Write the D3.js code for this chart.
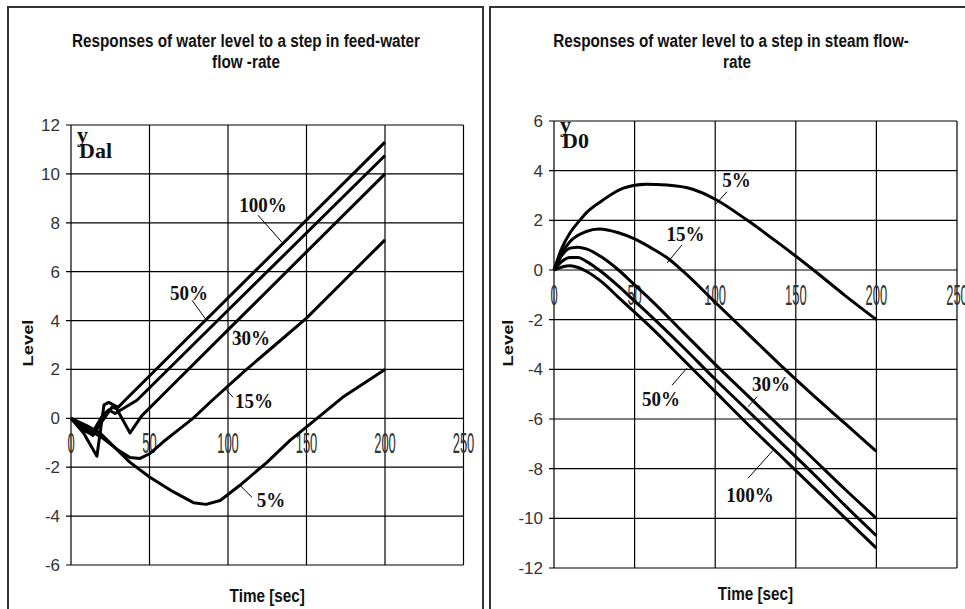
<!DOCTYPE html>
<html>
<head>
<meta charset="utf-8">
<script src="https://cdn.jsdelivr.net/npm/d3@7"></script>
<style>
  body { margin: 0; background: #fff; }
  svg { display: block; }
  .ttl { font-family: "Liberation Sans", Arial, sans-serif; font-weight: bold; font-size: 15.3px; fill: #111; }
  .ytick { font-family: "Liberation Sans", Arial, sans-serif; font-size: 17px; fill: #333; }
  .xtick { font-family: "Liberation Sans", Arial, sans-serif; font-size: 13px; fill: #333; }
  .serif { font-family: "Liberation Serif", "Times New Roman", serif; font-weight: bold; fill: #111; }
</style>
</head>
<body>
<div id="chart"></div>
<script>
var xTicks = [0, 50, 100, 150, 200, 250];
var feedTicksY = [-6, -4, -2, 0, 2, 4, 6, 8, 10, 12];
var steamTicksY = [-12, -10, -8, -6, -4, -2, 0, 2, 4, 6];
var seriesNames = ["5%", "15%", "30%", "50%", "100%"];

// feed-water step responses [time, level]
var feed5 = [[0,0],[10,-0.3],[18.5,-0.6],[28,-1.2],[37.6,-1.8],[50,-2.4],[65,-3.0],[78,-3.45],[86,-3.52],[95,-3.36],[107.6,-2.74],[124.8,-1.8],[139.5,-0.9],[156.7,0],[173,0.86],[200,2.0]];
var feed15 = [[0,0],[10,-0.4],[20,-0.8],[30,-1.3],[37.6,-1.6],[44,-1.64],[50,-1.45],[58.6,-0.97],[69.4,-0.42],[77.7,0],[90,0.74],[110,1.9],[130,3.0],[150,4.1],[175,5.7],[200,7.3]];
var feed30 = [[0,0],[8,-0.4],[14,-0.7],[20,-0.1],[26,0.45],[29,0.4],[37.6,-0.6],[45,0.1],[55,0.74],[100,3.62],[200,10.0]];
var feed50 = [[0,0],[7,-0.45],[13,-0.65],[20,0.1],[24,0.35],[28,0.2],[42,0.74],[100,4.42],[200,10.75]];
var feed100 = [[0,0],[8,-0.6],[16.5,-1.55],[21,0.55],[24,0.65],[30,0.45],[34.4,0.74],[200,11.3]];

// steam flow step responses [time, level]
var steam5 = [[0,0],[5,0.9],[10,1.5],[16,2.0],[20,2.3],[30,2.8],[43,3.3],[57,3.45],[70,3.42],[86,3.25],[100,2.85],[120,2.0],[140,1.05],[160,0.05],[180,-1.0],[200,-2.0]];
var steam15 = [[0,0],[5,0.7],[10,1.15],[20,1.55],[28,1.65],[40,1.5],[50,1.25],[60,0.9],[70,0.5],[80,-0.05],[100,-1.3],[120,-2.55],[140,-3.8],[160,-5.0],[180,-6.15],[200,-7.3]];
var steam30 = [[0,0],[5,0.6],[10,0.88],[15,0.92],[20,0.85],[30,0.5],[40,0],[50,-0.6],[60,-1.2],[80,-2.5],[100,-3.8],[120,-5.05],[140,-6.3],[160,-7.55],[180,-8.8],[200,-10.0]];
var steam50 = [[0,0],[5,0.35],[10,0.5],[15,0.5],[20,0.35],[30,-0.1],[40,-0.65],[50,-1.25],[60,-1.85],[80,-3.1],[100,-4.4],[120,-5.65],[140,-6.9],[160,-8.15],[180,-9.45],[200,-10.7]];
var steam100 = [[0,0],[5,0.12],[10,0.17],[15,0.1],[20,-0.05],[30,-0.5],[40,-1.1],[50,-1.7],[60,-2.3],[80,-3.6],[100,-4.9],[120,-6.2],[140,-7.45],[160,-8.7],[180,-9.95],[200,-11.2]];

// curve labels: text centre and leader line, in data units
var feedNotes = [
  { name: "100%", at: [122.3, 8.72], lead: [[119.1, 8.31], [134.4, 7.2]] },
  { name: "50%",  at: [75.2, 5.11],  lead: [[77.1, 4.83], [85.4, 4.09]] },
  { name: "30%",  at: [114.6, 3.27], lead: [[104.5, 3.6], [108.5, 3.33]] },
  { name: "15%",  at: [116.6, 0.7],  lead: [[98.1, 1.23], [103.2, 0.86]] },
  { name: "5%",   at: [127.4, -3.36], lead: [[107.6, -2.74], [115.3, -3.23]] }
];
var steamNotes = [
  { name: "5%",   at: [113.2, 3.63], lead: [[107.3, 3.15], [99.9, 2.62]] },
  { name: "15%",  at: [81.6, 1.43],  lead: [[79.4, 1.01], [70.1, 0.28]] },
  { name: "30%",  at: [134.6, -4.58], lead: [[126.0, -5.1], [120.5, -5.5]] },
  { name: "50%",  at: [66.4, -5.18], lead: [[73.2, -4.64], [82.5, -3.95]] },
  { name: "100%", at: [121.6, -9.05], lead: [[120.3, -8.39], [135.9, -7.26]] }
];

var svg = d3.select("#chart").append("svg")
    .attr("width", 965)
    .attr("height", 609);

/* text that is stretched vertically like the scanned figure */
function stretched(g, x, y, sy, txt, cls, anchor) {
    return g.append("text")
        .attr("class", cls)
        .attr("text-anchor", anchor || "middle")
        .attr("transform", "translate(" + x + "," + y + ") scale(1," + sy + ")")
        .text(txt);
}

function drawPanel(opt) {
    var g = svg.append("g");

    // panel frame
    g.append("rect")
        .attr("x", opt.frame[0]).attr("y", opt.frame[1])
        .attr("width", opt.frame[2]).attr("height", opt.frame[3])
        .attr("fill", "none").attr("stroke", "#333").attr("stroke-width", 2);

    var x = d3.scaleLinear().domain([0, 250]).range([opt.left, opt.right]);
    var y = d3.scaleLinear().domain(d3.extent(opt.yTicks)).range([opt.bottom, opt.top]);

    // grid
    g.selectAll(".hg").data(opt.yTicks).enter().append("line")
        .attr("x1", opt.left - 5).attr("x2", opt.right)
        .attr("y1", function (d) { return y(d); }).attr("y2", function (d) { return y(d); })
        .attr("stroke", "#000").attr("stroke-width", 1.2);
    g.selectAll(".vg").data(xTicks).enter().append("line")
        .attr("x1", function (d) { return x(d); }).attr("x2", function (d) { return x(d); })
        .attr("y1", opt.top).attr("y2", opt.bottom)
        .attr("stroke", "#000").attr("stroke-width", 1.2);

    // tick labels
    opt.yTicks.forEach(function (d) {
        g.append("text").attr("class", "ytick")
            .attr("x", opt.left - 11).attr("y", y(d) + 6)
            .attr("text-anchor", "end").text(d);
    });
    xTicks.forEach(function (d) {
        stretched(g, x(d), y(0) + 35, 2.2, d, "xtick");
    });

    // titles
    stretched(g, opt.titleX, 47, 1.2, opt.title[0], "ttl");
    stretched(g, opt.titleX + opt.title2dx, 68, 1.2, opt.title[1], "ttl");
    stretched(g, (opt.left + opt.right) / 2, opt.timeY, 1.2, "Time [sec]", "ttl");
    g.append("text").attr("class", "ttl")
        .attr("text-anchor", "middle")
        .attr("transform", "translate(" + opt.levelX + ",343) scale(1,1.2) rotate(-90)")
        .text("Level");

    // y with subscript
    g.append("text").attr("class", "serif").style("font-size", "22px")
        .attr("x", opt.left + 6).attr("y", opt.top + opt.symDy).text("y");
    g.append("text").attr("class", "serif").style("font-size", "22px")
        .attr("x", opt.left + 8).attr("y", opt.top + opt.symDy + 16).text(opt.sub);

    // curves
    var line = d3.line()
        .x(function (d) { return x(d[0]); })
        .y(function (d) { return y(d[1]); })
        .curve(opt.curve);
    g.selectAll(".curve").data(opt.series).enter().append("path")
        .attr("d", line)
        .attr("fill", "none")
        .attr("stroke", "#000")
        .attr("stroke-width", 3)
        .attr("stroke-linejoin", "round");

    // labels with leader lines
    opt.notes.forEach(function (n) {
        g.append("line")
            .attr("x1", x(n.lead[0][0])).attr("y1", y(n.lead[0][1]))
            .attr("x2", x(n.lead[1][0])).attr("y2", y(n.lead[1][1]))
            .attr("stroke", "#000").attr("stroke-width", 1);
        g.append("text").attr("class", "serif").style("font-size", "19px")
            .attr("text-anchor", "middle")
            .attr("transform", "translate(" + x(n.at[0]) + "," + (y(n.at[1]) + 7) + ") scale(1,1.15)")
            .text(n.name);
    });
}

drawPanel({
    frame: [8, 7, 475, 640],
    left: 71, right: 463.5, top: 125, bottom: 565,
    yTicks: feedTicksY,
    title: ["Responses of water level to a step in feed-water", "flow -rate"],
    titleX: 246, title2dx: 0,
    timeY: 602, levelX: 33,
    sub: "Dal", symDy: 17,
    curve: d3.curveLinear,
    series: [feed5, feed15, feed30, feed50, feed100],
    notes: feedNotes
});

drawPanel({
    frame: [490, 7, 520, 640],
    left: 554, right: 957, top: 121, bottom: 568,
    yTicks: steamTicksY,
    title: ["Responses of water level to a step in steam flow-", "rate"],
    titleX: 731, title2dx: 6,
    timeY: 600, levelX: 513,
    sub: "D0", symDy: 11,
    curve: d3.curveMonotoneX,
    series: [steam5, steam15, steam30, steam50, steam100],
    notes: steamNotes
});
</script>
</body>
</html>
